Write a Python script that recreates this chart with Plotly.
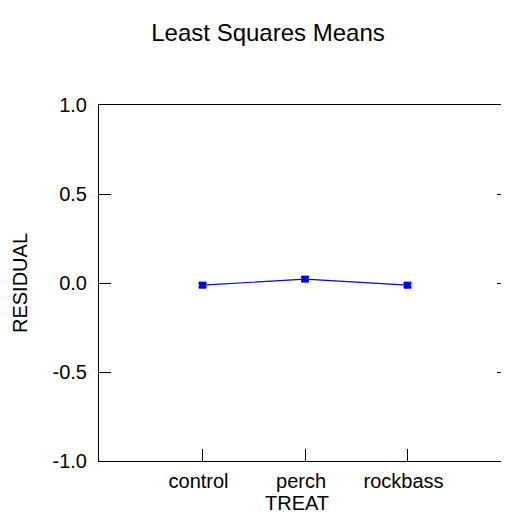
import plotly.graph_objects as go

categories = ["control", "perch", "rockbass"]
means = [-0.012, 0.022, -0.012]
errors = [0.012, 0.012, 0.012]
y_ticks = [-1.0, -0.5, 0.0, 0.5, 1.0]
y_tick_labels = ["-1.0", "-0.5", "0.0", "0.5", "1.0"]

FONT = "Liberation Sans, Arial"
W, H = 501, 511  # page body adds an 8px margin; figure fills the 509x519 window exactly

fig = go.Figure()
fig.add_trace(go.Scatter(
    x=categories, y=means,
    mode="lines+markers",
    line=dict(color="#0000FF", width=1.2),
    marker=dict(symbol="square", size=7, color="#0000FF"),
    error_y=dict(type="data", array=errors, color="#0000FF", thickness=2, width=4),
    showlegend=False,
))

tick_common = dict(
    ticks="inside", ticklen=12, tickcolor="black", tickwidth=1,
    showgrid=False, zeroline=False,
    tickfont=dict(family=FONT, size=20, color="black"),
)

fig.update_layout(
    width=W, height=H,
    margin=dict(l=91, r=0, t=97, b=58),
    paper_bgcolor="white", plot_bgcolor="white",
    title=dict(text="Least Squares Means", x=260 / W, xanchor="center", y=1 - 25 / H, yanchor="middle",
               font=dict(family=FONT, size=24, color="black")),
    xaxis=dict(range=[-1.01, 2.99], type="category", ticklabelstandoff=2, ticklabelshift=-4,
               showline=True, linecolor="black", linewidth=1, mirror=True, **tick_common),
    yaxis=dict(range=[-1.0, 1.0], tickvals=y_ticks, ticktext=y_tick_labels,
               ticklabelstandoff=7, showline=True, linecolor="black", linewidth=1, mirror=False,
               **tick_common),
    yaxis2=dict(range=[-1.0, 1.0], tickvals=y_ticks, showticklabels=False, overlaying="y",
                side="right", showline=False, **tick_common),
    annotations=[
        dict(text="TREAT", xref="paper", yref="paper", x=0.5, y=0, xanchor="center", yanchor="middle",
             xshift=-7, yshift=-42, showarrow=False, font=dict(family=FONT, size=20, color="black")),
        dict(text="RESIDUAL", xref="paper", yref="paper", x=0, y=0.5, xanchor="center", yanchor="middle",
             xshift=-79, textangle=-90, showarrow=False, font=dict(family=FONT, size=20, color="black")),
    ],
)
# invisible helper trace so the right-side tick axis is drawn
fig.add_trace(go.Scatter(x=[categories[0]], y=[None], yaxis="y2", showlegend=False, hoverinfo="skip"))

fig.write_html("out.html")
